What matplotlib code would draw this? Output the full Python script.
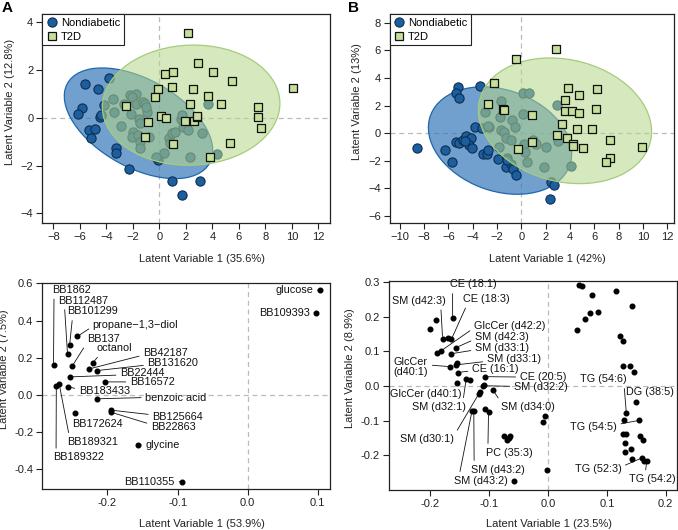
import numpy as np
import matplotlib.pyplot as plt
from matplotlib.patches import Ellipse
from matplotlib.lines import Line2D
from matplotlib.colors import to_rgba

plt.rcParams['font.family'] = ['Liberation Sans', 'DejaVu Sans']
plt.rcParams['font.size'] = 8

# ---- panel A, scores ----
a_nd_x = [-5.61, -3.82, -4.60, -5.86, -6.11, -4.20, -4.45, -4.42, -5.28, -4.88, -5.13, -3.30,
          -3.25, -2.31, -0.13, 0.96, 3.07, 1.69,
          -3.52, -3.45, -2.87, -2.69, -2.21, -2.11, -1.79, -2.06, -1.74, -1.23, -1.11, -0.96,
          -1.56, -1.46, -1.96, -2.06, -1.61, -1.43, -1.46, -1.03, 0.75, 0.93, 1.16, 0.78,
          0.35, -0.23, 1.61, 1.79, 3.65, 2.14, 3.19, 2.34, 4.33, 1.71, -0.81]
a_nd_y = [1.42, 1.67, 1.21, 0.42, 0.18, 0.54, 0.03, 0.12, -0.49, -0.46, -0.83, -1.27,
          -1.46, -2.14, -1.78, -2.66, -2.63, -3.25,
          0.79, 0.24, -0.33, 0.56, 0.95, 0.18, 0.99, 0.88, 0.60, 0.65, 0.60, 0.25,
          -0.07, -0.21, -0.58, -0.79, -0.72, -1.00, -1.28, 0.46, -0.86, -0.63, -0.58, -1.07,
          -1.49, -1.66, -0.07, -0.38, 0.60, -0.51, -0.63, -1.63, -1.53, 0.10, -0.79]
a_t2d_x = [2.16, 2.89, 4.08, 5.48, 10.09, 0.45, 1.06, 0.96, -0.10, -0.30, 2.57, 3.65, 4.65,
           2.34, -2.49, 7.47, 7.42, 7.67, 0.15, 0.48, 1.91, 2.64, 2.82, 2.86, -0.83, -1.06,
           1.01, 5.33, 3.85]
a_t2d_y = [3.56, 2.28, 1.92, 1.53, 1.24, 1.85, 1.91, 1.28, 1.21, 0.88, 1.21, 0.93, 0.57,
           0.60, 0.49, 0.47, 0.04, -0.42, 0.07, -0.01, -0.14, -0.14, 0.04, 0.08, -0.18, -0.82,
           -1.11, -1.06, -1.63]
# group ellipses: centre x, centre y, half-range x, half-range y, correlation
a_nd_ell = (-1.57, -0.23, 5.6, 2.32, -0.49)
a_t2d_ell = (2.4, 0.53, 6.7, 2.52, 0.03)

# ---- panel B, scores ----
b_nd_x = [-8.58, -6.25, -5.73, -5.21, -5.37, -5.15, -3.36, -3.81, -3.23, -2.68, -5.34, -5.12,
          -4.79, -4.52, -4.14, -4.30, -4.03, -4.63, -3.15, -2.79, -2.71, -1.84, -1.89, -1.15,
          -1.07, -1.29, -0.88, -0.68, -0.47, -1.21, 0.47, 2.41, 2.68, 2.35,
          -2.99, -2.78, -1.64, -1.78, -1.64, -1.45, -1.29, -0.79, -0.52, -0.88, 0.14, 0.63,
          0.14, 0.99, 1.18, 2.03, 1.86, 2.90, 3.04, 4.05, 0.22, 0.30]
b_nd_y = [-1.06, -1.23, -2.10, 3.36, 2.88, 2.56, 3.42, 0.46, 0.36, 0.48, -0.60, -0.68,
          -0.51, -0.17, -0.31, -0.85, -1.09, -0.56, -1.47, -1.47, -1.23, -0.99, -1.84, -1.81,
          -2.13, -2.44, -2.20, -2.61, -3.02, -1.96, -2.06, -3.50, -3.72, -4.75,
          1.57, 0.50, 2.30, 1.18, 0.22, 0.12, -0.36, 0.99, 0.46, -0.51, 2.93, 2.88,
          1.38, -0.51, -0.75, -0.99, -2.44, 2.06, -0.56, -2.37, -0.80, -1.33]
b_t2d_x = [2.82, -0.47, -2.27, -2.74, -1.53, -1.45, 0.85, -0.27, 0.85, 3.86, 4.74, 6.25, 3.56,
           3.59, 4.19, 4.74, 6.11, 3.32, 2.90, 3.73, 4.55, 5.84, 4.25, 4.27, 5.04, 7.26, 7.32,
           6.96, 9.89]
b_t2d_y = [6.09, 5.34, 3.67, 2.10, 1.74, 1.66, 1.33, -1.16, -0.65, 3.31, 2.76, 3.22, 2.39,
           1.60, 1.60, 1.43, 1.72, 0.65, -0.12, -0.36, 0.27, 0.34, -0.77, -0.92, -1.04, -0.46,
           -1.81, -2.06, -1.02]
b_nd_ell = (-1.75, -0.53, 5.89, 3.89, -0.24)
b_t2d_ell = (3.59, 0.90, 7.12, 4.55, -0.17)

# ---- panel A, loadings ----
a_names = ['glucose', 'BB109393', 'BB1862', 'BB112487', 'BB101299', 'propane\u22121,3\u2212diol',
           'BB137', 'octanol', 'BB42187', 'BB131620', 'BB22444', 'BB16572', 'BB183433',
           'benzoic acid', 'BB125664', 'BB22863', 'BB172624', 'BB189321', 'BB189322',
           'glycine', 'BB110355']
a_load_x = [0.103, 0.098, -0.277, -0.257, -0.254, -0.243, -0.250, -0.221, -0.226, -0.215,
            -0.253, -0.204, -0.256, -0.215, -0.195, -0.195, -0.247, -0.269, -0.273, -0.156,
            -0.093]
a_load_y = [0.565, 0.442, 0.163, 0.220, 0.270, 0.315, 0.157, 0.172, 0.140, 0.131, 0.097,
            0.070, 0.043, -0.021, -0.082, -0.093, -0.100, 0.061, 0.047, -0.270, -0.467]
# label text position, alignment, where the leader leaves the text
a_text = [(0.0937, 0.562, 'right', (1, 0.5)), (0.089, 0.442, 'right', (1, 0.5)),
          (-0.2796, 0.565, 'left', (0.06, 0)), (-0.270, 0.508, 'left', (0.12, 0)),
          (-0.257, 0.449, 'left', (0.1, 0)), (-0.221, 0.374, 'left', (0, 0.4)),
          (-0.229, 0.299, 'left', (0, 0.2)), (-0.215, 0.250, 'left', (0.1, 0)),
          (-0.149, 0.225, 'left', (0, 0.3)), (-0.143, 0.172, 'left', (0, 0.3)),
          (-0.182, 0.118, 'left', (0, 0.3)), (-0.168, 0.070, 'left', (0, 0.5)),
          (-0.241, 0.020, 'left', (0, 0.7)), (-0.146, -0.014, 'left', (0, 0.5)),
          (-0.136, -0.118, 'left', (0, 0.7)), (-0.138, -0.175, 'left', (0, 0.8)),
          (-0.250, -0.157, 'left', (0.05, 1)), (-0.258, -0.252, 'left', (0.05, 1)),
          (-0.277, -0.336, 'left', (0.05, 1)), (-0.146, -0.267, 'left', (0, 0.5)),
          (-0.1037, -0.467, 'right', (1, 0.5))]

# ---- panel B, loadings ----
b_names = ['CE (18:1)', 'CE (18:3)', 'SM (d42:3)', 'GlcCer (d42:2)', 'SM (d42:3)',
           'SM (d33:1)', 'SM (d33:1)', 'GlcCer\n(d40:1)', 'CE (16:1)', 'CE (20:5)',
           'SM (d32:2)', 'GlcCer (d40:1)', 'SM (d32:1)', 'SM (d34:0)', 'SM (d30:1)',
           'PC (35:3)', 'SM (d43:2)', 'SM (d43:2)', 'TG (54:6)', 'DG (38:5)', 'TG (54:5)',
           'TG (52:3)', 'TG (54:2)']
b_load_x = [-0.162, -0.164, -0.179, -0.188, -0.156, -0.165, -0.156, -0.167, -0.153, -0.107,
            -0.111, -0.155, -0.139, -0.094, -0.118, -0.101, -0.126, -0.129, 0.133, 0.149,
            0.155, 0.160, 0.1675]
b_load_y = [0.195, 0.135, 0.137, 0.094, 0.111, 0.093, 0.061, 0.056, 0.039, 0.027, 0.001,
            0.010, 0.020, -0.011, -0.024, -0.075, -0.073, -0.071, -0.079, -0.047, -0.099,
            -0.207, -0.217]
b_text = [(-0.166, 0.293, 'left', (0.05, 0)), (-0.145, 0.251, 'left', (0.1, 0)),
          (-0.173, 0.246, 'right', (0.9, 0)), (-0.126, 0.173, 'left', (0, 0.3)),
          (-0.124, 0.141, 'left', (0, 0.3)), (-0.124, 0.110, 'left', (0, 0.3)),
          (-0.104, 0.077, 'left', (0, 0.3)), (-0.262, 0.055, 'left', (1, 0.6)),
          (-0.129, 0.050, 'left', (0, 0.3)), (-0.048, 0.026, 'left', (0, 0.5)),
          (-0.058, -0.004, 'left', (0, 0.6)), (-0.147, -0.023, 'right', (0.95, 1)),
          (-0.140, -0.060, 'right', (0.95, 1)), (-0.080, -0.060, 'left', (0, 1)),
          (-0.160, -0.153, 'right', (1, 0.8)), (-0.106, -0.192, 'left', (0.05, 1)),
          (-0.130, -0.241, 'left', (0.05, 1)), (-0.160, -0.273, 'left', (0.1, 1)),
          (0.133, 0.019, 'right', (0.95, 0)), (0.133, -0.0176, 'left', (0.2, 0)),
          (0.117, -0.117, 'right', (1, 0.7)), (0.1245, -0.239, 'right', (1, 0.7)),
          (0.2165, -0.2686, 'right', (0.35, 1))]
b_other_x = [-0.200, -0.191, -0.182, -0.169, -0.154, -0.132, -0.115, -0.109, -0.107, -0.074,
             -0.069, -0.064, -0.067, -0.058, -0.009, -0.005, -0.002,
             0.053, 0.058, 0.075, 0.049, 0.062, 0.072, 0.085, 0.115, 0.143, 0.123, 0.128,
             0.128, 0.140, 0.1455, 0.1296, 0.127, 0.133, 0.156, 0.161, 0.130, 0.1415, 0.130,
             0.142, 0.1636]
b_other_y = [0.165, 0.190, 0.101, 0.139, 0.065, 0.016, -0.018, 0.003, -0.066, -0.143,
             -0.157, -0.143, -0.150, -0.274, -0.104, -0.086, -0.241,
             0.291, 0.288, 0.264, 0.161, 0.193, 0.210, 0.214, 0.2755, 0.231, 0.144, 0.131,
             0.058, 0.058, 0.041, -0.097, -0.137, -0.137, -0.145, -0.157, -0.164, -0.182,
             -0.189, -0.212, -0.217]

BLUE = '#1d5f9e'
BLUE_FILL = '#2f74b8'
GREEN = '#c6df9c'
GREEN_FILL = '#b5d68a'
GREY = '#222222'
FS = 8

W, H = 678, 530
fig = plt.figure(figsize=(W / 100, H / 100), dpi=100)


def box(l, t, r, b):
    return [l / W, 1 - b / H, (r - l) / W, (b - t) / H]


def style(ax, xlab, ylab):
    for s in ax.spines.values():
        s.set_color(GREY)
        s.set_linewidth(0.9)
    ax.tick_params(direction='out', length=4, width=0.8, color=GREY, labelcolor=GREY,
                   labelsize=FS, pad=2.5)
    ax.axhline(0, color='#bbbbbb', ls=(0, (4, 3)), lw=0.9, zorder=0.5)
    ax.axvline(0, color='#bbbbbb', ls=(0, (4, 3)), lw=0.9, zorder=0.5)
    ax.set_xlabel(xlab, fontsize=FS, color=GREY, labelpad=8.5)
    ax.set_ylabel(ylab, fontsize=FS, color=GREY, labelpad=4)
    # titles sit a little right / up of the box centre, as in the original
    w, h = ax.get_position().width * W, ax.get_position().height * H
    ax.xaxis.label.set_x(0.5 + 16 / w)
    ax.yaxis.label.set_y(0.5 + 17 / h)


def group_ellipse(ax, params, fill, alpha, edge, z):
    cx, cy, dx, dy, r = params
    cov = np.array([[dx * dx, r * dx * dy], [r * dx * dy, dy * dy]])
    vals, vecs = np.linalg.eigh(cov)
    ang = np.degrees(np.arctan2(vecs[1, 1], vecs[0, 1]))
    e = Ellipse((cx, cy), 2 * np.sqrt(vals[1]), 2 * np.sqrt(vals[0]), angle=ang,
                facecolor=to_rgba(fill, alpha), edgecolor=edge, lw=0.9, zorder=z)
    ax.add_patch(e)


def scores(ax, ndx, ndy, nd_ell, tx, ty, t_ell, xlab, ylab):
    style(ax, xlab, ylab)
    group_ellipse(ax, nd_ell, BLUE_FILL, 0.68, '#1f67ab', 1)
    ax.scatter(ndx, ndy, s=44, c=BLUE, edgecolors='#0c2f52', linewidths=0.8, zorder=2)
    group_ellipse(ax, t_ell, GREEN_FILL, 0.55, '#a5cc7a', 3)
    ax.scatter(tx, ty, s=34, marker='s', c=GREEN, edgecolors='#111111', linewidths=0.9,
               zorder=4)
    handles = [Line2D([], [], ls='', marker='o', ms=6.6, mfc=BLUE, mec='#0c2f52', mew=0.8),
               Line2D([], [], ls='', marker='s', ms=5.8, mfc=GREEN, mec='#111111', mew=0.9)]
    leg = ax.legend(handles, ['Nondiabetic', 'T2D'], loc='upper left', borderaxespad=0,
                    fancybox=False, fontsize=FS, handletextpad=0.3, handlelength=1.0,
                    borderpad=0.35, labelspacing=0.3, framealpha=1)
    leg.get_frame().set_edgecolor(GREY)
    leg.get_frame().set_linewidth(0.8)
    leg.set_zorder(6)


def loadings(ax, x, y, names, texts, xlab, ylab):
    style(ax, xlab, ylab)
    ax.scatter(x, y, s=11, c='k', zorder=3)
    for nm, px, py, (tx, ty, ha, rp) in zip(names, x, y, texts):
        ax.annotate(nm, xy=(px, py), xytext=(tx, ty), ha=ha, va='center', fontsize=7.8,
                    color='#111111', linespacing=1.0,
                    arrowprops=dict(arrowstyle='-', lw=0.6, color='#111111', relpos=rp,
                                    shrinkA=1, shrinkB=1.5))


ax1 = fig.add_axes(box(42.3, 14.3, 330, 223))
scores(ax1, a_nd_x, a_nd_y, a_nd_ell, a_t2d_x, a_t2d_y, a_t2d_ell,
       'Latent Variable 1 (35.6%)', 'Latent Variable 2 (12.8%)')
ax1.set_xlim(-8.83, 12.88)
ax1.set_ylim(-4.41, 4.34)
ax1.set_xticks(np.arange(-8, 13, 2))
ax1.set_yticks(np.arange(-4, 5, 2))

ax2 = fig.add_axes(box(389.7, 14.3, 674, 223))
scores(ax2, b_nd_x, b_nd_y, b_nd_ell, b_t2d_x, b_t2d_y, b_t2d_ell,
       'Latent Variable 1 (42%)', 'Latent Variable 2 (13%)')
ax2.set_xlim(-10.82, 12.55)
ax2.set_ylim(-6.5, 8.61)
ax2.set_xticks(np.arange(-10, 13, 2))
ax2.set_yticks(np.arange(-6, 9, 2))

ax3 = fig.add_axes(box(42.3, 282.5, 330, 489.3))
loadings(ax3, a_load_x, a_load_y, a_names, a_text, 'Latent Variable 1 (53.9%)',
         'Latent Variable 2 (7.5%)')
ax3.set_xlim(-0.293, 0.1175)
ax3.set_ylim(-0.508, 0.605)
ax3.set_xticks([-0.2, -0.1, 0.0, 0.1])
ax3.set_yticks([-0.4, -0.2, 0.0, 0.2, 0.4, 0.6])
ax3.yaxis.set_major_formatter(plt.FormatStrFormatter('%.1f'))
ax3.xaxis.set_major_formatter(plt.FormatStrFormatter('%.1f'))
ax3.xaxis.labelpad = 7.5

ax4 = fig.add_axes(box(389, 281, 677, 490))
loadings(ax4, b_load_x, b_load_y, b_names, b_text, 'Latent Variable 1 (23.5%)',
         'Latent Variable 2 (8.9%)')
ax4.scatter(b_other_x, b_other_y, s=11, c='k', zorder=3)
ax4.set_xlim(-0.270, 0.219)
ax4.set_ylim(-0.300, 0.303)
ax4.set_xticks([-0.2, -0.1, 0.0, 0.1, 0.2])
ax4.set_yticks([-0.2, -0.1, 0.0, 0.1, 0.2, 0.3])
ax4.yaxis.set_major_formatter(plt.FormatStrFormatter('%.1f'))
ax4.xaxis.set_major_formatter(plt.FormatStrFormatter('%.1f'))
ax4.xaxis.labelpad = 7.5

fig.text(2 / W, 1 - 1 / H, 'A', fontsize=11, fontweight='bold', va='top', ha='left')
fig.text(348 / W, 1 - 1 / H, 'B', fontsize=11, fontweight='bold', va='top', ha='left')

fig.savefig('out.png', dpi=100)
